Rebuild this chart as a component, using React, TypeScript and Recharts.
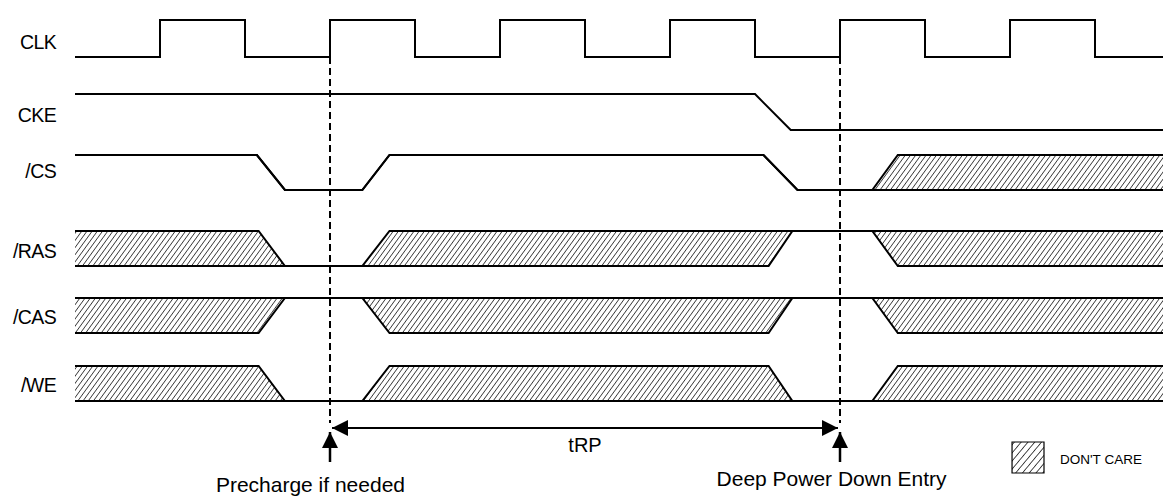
import { ComposedChart, Line, Area, XAxis, YAxis, ReferenceLine, ReferenceDot, ReferenceArea } from "recharts";

// time axis is in clock cycles, 0 = first rising edge after the precharge clock
const signalNames = ["CLK", "CKE", "/CS", "/RAS", "/CAS", "/WE"];

// [t, level]
const clk = [
  [-0.5, 0], [0, 0], [0, 1], [0.5, 1], [0.5, 0], [1, 0], [1, 1], [1.5, 1], [1.5, 0],
  [2, 0], [2, 1], [2.5, 1], [2.5, 0], [3, 0], [3, 1], [3.5, 1], [3.5, 0],
  [4, 0], [4, 1], [4.5, 1], [4.5, 0], [5, 0], [5, 1], [5.5, 1], [5.5, 0], [5.9, 0],
];
const cke = [[-0.5, 1], [3.5, 1], [3.71, 0], [5.9, 0]];

// [t, low, high] -> low == high is a driven level, low < high is "don't care"
const cs = [[-0.5, 1, 1], [0.57, 1, 1], [0.735, 0, 0], [1.19, 0, 0], [1.35, 1, 1], [3.55, 1, 1], [3.75, 0, 0], [4.19, 0, 0], [4.34, 0, 1], [5.9, 0, 1]];
const ras = [[-0.5, 0, 1], [0.58, 0, 1], [0.735, 0, 0], [1.19, 0, 0], [1.35, 0, 1], [3.58, 0, 1], [3.72, 1, 1], [4.19, 1, 1], [4.34, 0, 1], [5.9, 0, 1]];
const cas = [[-0.5, 0, 1], [0.58, 0, 1], [0.735, 1, 1], [1.19, 1, 1], [1.35, 0, 1], [3.58, 0, 1], [3.72, 1, 1], [4.19, 1, 1], [4.34, 0, 1], [5.9, 0, 1]];
const we = [[-0.5, 0, 1], [0.58, 0, 1], [0.735, 0, 0], [1.19, 0, 0], [1.35, 0, 1], [3.58, 0, 1], [3.72, 0, 0], [4.19, 0, 0], [4.34, 0, 1], [5.9, 0, 1]];

const precharge = 1;
const powerDownEntry = 4;
const timingLabel = "tRP";
const notes = ["Precharge if needed", "Deep Power Down Entry"];
const legendLabel = "DON'T CARE";

// layout (pixel rows of each lane: low / high)
const W = 1167;
const H = 499;
const lanes = [
  { low: 57, high: 20, label: 42 },
  { low: 130, high: 94, label: 115 },
  { low: 190, high: 155, label: 171.5 },
  { low: 266, high: 231, label: 251.5 },
  { low: 333, high: 298, label: 317 },
  { low: 401, high: 366, label: 385.5 },
];
const lv = (i: number, v: number) => lanes[i].low - v * (lanes[i].low - lanes[i].high);

const clkData = clk.map(([t, v]) => ({ t, y: lv(0, v) }));
const ckeData = cke.map(([t, v]) => ({ t, y: lv(1, v) }));
const busSignals = [cs, ras, cas, we];
const busData = busSignals.map((s, k) => s.map(([t, lo, hi]) => ({ t, range: [lv(k + 2, lo), lv(k + 2, hi)] })));

const font = "'Liberation Sans', Arial, sans-serif";

export default function App() {
  return (
    <div style={{ position: "absolute", left: 0, top: 0, width: W, height: H, background: "#fff" }}>
      <ComposedChart width={W} height={H} margin={{ top: 0, right: 0, bottom: 0, left: 0 }}>
        <defs>
          <pattern id="hatch" patternUnits="userSpaceOnUse" width={4.2} height={4} patternTransform="rotate(36)">
            <line x1={0} y1={-1} x2={0} y2={5} stroke="#000" strokeWidth={1.3} />
          </pattern>
          <pattern id="hatchLegend" patternUnits="userSpaceOnUse" width={5.2} height={4} patternTransform="rotate(40)">
            <line x1={0} y1={-1} x2={0} y2={5} stroke="#000" strokeWidth={1.4} />
          </pattern>
          <marker id="arrow" viewBox="0 0 16 16" refX={16} refY={8} markerWidth={16} markerHeight={16}
            markerUnits="userSpaceOnUse" orient="auto-start-reverse">
            <path d="M0,0 L16,8 L0,16 z" fill="#000" />
          </marker>
        </defs>
        <XAxis type="number" dataKey="t" domain={[-160 / 170, (W - 160) / 170]} hide allowDataOverflow />
        <YAxis type="number" domain={[0, H]} reversed hide allowDataOverflow />

        <ReferenceLine segment={[{ x: precharge, y: 57 }, { x: precharge, y: 423 }]} stroke="#000" strokeWidth={2} strokeDasharray="7 4" />
        <ReferenceLine segment={[{ x: powerDownEntry, y: 57 }, { x: powerDownEntry, y: 423 }]} stroke="#000" strokeWidth={2} strokeDasharray="7 4" />

        <Line data={clkData} dataKey="y" type="linear" stroke="#000" strokeWidth={2} dot={false} activeDot={false} isAnimationActive={false} />
        <Line data={ckeData} dataKey="y" type="linear" stroke="#000" strokeWidth={2} dot={false} activeDot={false} isAnimationActive={false} />
        {busData.map((d, k) => (
          <Area key={signalNames[k + 2]} data={d} dataKey="range" type="linear" stroke="#000" strokeWidth={2}
            fill="url(#hatch)" fillOpacity={1} dot={false} activeDot={false} isAnimationActive={false} />
        ))}

        <ReferenceLine segment={[{ x: 1.012, y: 428 }, { x: 3.988, y: 428 }]} stroke="#000" strokeWidth={2}
          markerStart="url(#arrow)" markerEnd="url(#arrow)" />
        <ReferenceLine segment={[{ x: precharge, y: 462 }, { x: precharge, y: 432 }]} stroke="#000" strokeWidth={2.5} markerEnd="url(#arrow)" />
        <ReferenceLine segment={[{ x: powerDownEntry, y: 462 }, { x: powerDownEntry, y: 432 }]} stroke="#000" strokeWidth={2.5} markerEnd="url(#arrow)" />

        {signalNames.map((n, i) => (
          <ReferenceDot key={n} x={-0.582} y={lanes[i].label} r={0} fill="none" stroke="none"
            label={{ value: n, position: "left", offset: 5, fill: "#000", fontSize: 19.5, fontFamily: font, letterSpacing: -0.6 }} />
        ))}
        <ReferenceDot x={2.5} y={444.5} r={0} fill="none" stroke="none"
          label={{ value: timingLabel, position: "center", fill: "#000", fontSize: 20, fontFamily: font }} />
        <ReferenceDot x={0.885} y={484.5} r={0} fill="none" stroke="none"
          label={{ value: notes[0], position: "center", fill: "#000", fontSize: 21, fontFamily: font }} />
        <ReferenceDot x={3.95} y={478.5} r={0} fill="none" stroke="none"
          label={{ value: notes[1], position: "center", fill: "#000", fontSize: 21, fontFamily: font }} />

        <ReferenceArea x1={5.012} x2={5.2} y1={442} y2={473} fill="url(#hatchLegend)" fillOpacity={1} stroke="#000" strokeWidth={1.2} />
        <ReferenceDot x={5.265} y={459.5} r={0} fill="none" stroke="none"
          label={{ value: legendLabel, position: "right", offset: 5, fill: "#000", fontSize: 13.5, fontFamily: font }} />
      </ComposedChart>
    </div>
  );
}
